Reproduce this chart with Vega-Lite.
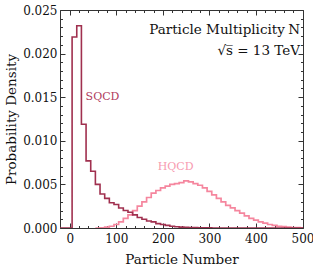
{
  "$schema": "https://vega.github.io/schema/vega-lite/v6.json",
  "width": 243,
  "height": 218,
  "autosize": "none",
  "padding": {"left": 60, "top": 10, "right": 10, "bottom": 45},
  "background": "white",
  "config": {
    "view": {"stroke": null},
    "font": "DejaVu Serif",
    "axis": {
      "labelFont": "DejaVu Serif",
      "titleFont": "DejaVu Serif",
      "labelColor": "#111",
      "titleColor": "#111",
      "titleFontWeight": "normal",
      "domainColor": "#333",
      "tickColor": "#333",
      "grid": false
    }
  },
  "datasets": {
    "hist": [
      {"series": "HQCD", "edge": 55, "density": 0},
      {"series": "HQCD", "edge": 65, "density": 0.00003},
      {"series": "HQCD", "edge": 75, "density": 0.0001},
      {"series": "HQCD", "edge": 85, "density": 0.0002},
      {"series": "HQCD", "edge": 95, "density": 0.0004},
      {"series": "HQCD", "edge": 105, "density": 0.0007},
      {"series": "HQCD", "edge": 115, "density": 0.0011},
      {"series": "HQCD", "edge": 125, "density": 0.0015},
      {"series": "HQCD", "edge": 135, "density": 0.002},
      {"series": "HQCD", "edge": 145, "density": 0.0025},
      {"series": "HQCD", "edge": 155, "density": 0.003},
      {"series": "HQCD", "edge": 165, "density": 0.0035},
      {"series": "HQCD", "edge": 175, "density": 0.004},
      {"series": "HQCD", "edge": 185, "density": 0.0043},
      {"series": "HQCD", "edge": 195, "density": 0.0046},
      {"series": "HQCD", "edge": 205, "density": 0.0048},
      {"series": "HQCD", "edge": 215, "density": 0.005},
      {"series": "HQCD", "edge": 225, "density": 0.0051},
      {"series": "HQCD", "edge": 235, "density": 0.0052},
      {"series": "HQCD", "edge": 245, "density": 0.0054},
      {"series": "HQCD", "edge": 255, "density": 0.0053},
      {"series": "HQCD", "edge": 265, "density": 0.0051},
      {"series": "HQCD", "edge": 275, "density": 0.0049},
      {"series": "HQCD", "edge": 285, "density": 0.0046},
      {"series": "HQCD", "edge": 295, "density": 0.0042},
      {"series": "HQCD", "edge": 305, "density": 0.0038},
      {"series": "HQCD", "edge": 315, "density": 0.0034},
      {"series": "HQCD", "edge": 325, "density": 0.003},
      {"series": "HQCD", "edge": 335, "density": 0.0026},
      {"series": "HQCD", "edge": 345, "density": 0.0023},
      {"series": "HQCD", "edge": 355, "density": 0.002},
      {"series": "HQCD", "edge": 365, "density": 0.0017},
      {"series": "HQCD", "edge": 375, "density": 0.0014},
      {"series": "HQCD", "edge": 385, "density": 0.0011},
      {"series": "HQCD", "edge": 395, "density": 0.0009},
      {"series": "HQCD", "edge": 405, "density": 0.0007},
      {"series": "HQCD", "edge": 415, "density": 0.00055},
      {"series": "HQCD", "edge": 425, "density": 0.0004},
      {"series": "HQCD", "edge": 435, "density": 0.0003},
      {"series": "HQCD", "edge": 445, "density": 0.0002},
      {"series": "HQCD", "edge": 455, "density": 0.00015},
      {"series": "HQCD", "edge": 465, "density": 0.0001},
      {"series": "HQCD", "edge": 475, "density": 0.00006},
      {"series": "HQCD", "edge": 485, "density": 0.00004},
      {"series": "HQCD", "edge": 495, "density": 0.00002},
      {"series": "HQCD", "edge": 505, "density": 0},
      {"series": "SQCD", "edge": -25, "density": 0},
      {"series": "SQCD", "edge": -15, "density": 0},
      {"series": "SQCD", "edge": -5, "density": 0},
      {"series": "SQCD", "edge": 5, "density": 0.0219},
      {"series": "SQCD", "edge": 15, "density": 0.0232},
      {"series": "SQCD", "edge": 25, "density": 0.0119},
      {"series": "SQCD", "edge": 35, "density": 0.0077},
      {"series": "SQCD", "edge": 45, "density": 0.0065},
      {"series": "SQCD", "edge": 55, "density": 0.005},
      {"series": "SQCD", "edge": 65, "density": 0.0039},
      {"series": "SQCD", "edge": 75, "density": 0.0034},
      {"series": "SQCD", "edge": 85, "density": 0.0029},
      {"series": "SQCD", "edge": 95, "density": 0.0027},
      {"series": "SQCD", "edge": 105, "density": 0.0023},
      {"series": "SQCD", "edge": 115, "density": 0.002},
      {"series": "SQCD", "edge": 125, "density": 0.0018},
      {"series": "SQCD", "edge": 135, "density": 0.0015},
      {"series": "SQCD", "edge": 145, "density": 0.0012},
      {"series": "SQCD", "edge": 155, "density": 0.001},
      {"series": "SQCD", "edge": 165, "density": 0.0008},
      {"series": "SQCD", "edge": 175, "density": 0.0007},
      {"series": "SQCD", "edge": 185, "density": 0.0005},
      {"series": "SQCD", "edge": 195, "density": 0.0004},
      {"series": "SQCD", "edge": 205, "density": 0.0003},
      {"series": "SQCD", "edge": 215, "density": 0.0002},
      {"series": "SQCD", "edge": 225, "density": 0.00015},
      {"series": "SQCD", "edge": 235, "density": 0.0001},
      {"series": "SQCD", "edge": 245, "density": 0.00008},
      {"series": "SQCD", "edge": 255, "density": 0.00005},
      {"series": "SQCD", "edge": 265, "density": 0.00004},
      {"series": "SQCD", "edge": 275, "density": 0.00003},
      {"series": "SQCD", "edge": 285, "density": 0.00002},
      {"series": "SQCD", "edge": 295, "density": 0.00001},
      {"series": "SQCD", "edge": 305, "density": 0},
      {"series": "SQCD", "edge": 505, "density": 0}
    ],
    "labels": [
      {"text": "SQCD", "series": "SQCD", "x": 34, "y": 0.015},
      {"text": "HQCD", "series": "HQCD", "x": 189, "y": 0.007}
    ],
    "notes": [
      {"text": "Particle Multiplicity", "x": 462, "y": 0.02265, "style": "normal"},
      {"text": "N", "x": 494.5, "y": 0.02265, "style": "italic"},
      {"text": "√s̅ = 13 TeV", "x": 494.5, "y": 0.0203, "style": "normal"}
    ]
  },
  "layer": [
    {
      "data": {"name": "hist"},
      "transform": [{"filter": "datum.series === 'HQCD'"}],
      "mark": {"type": "line", "interpolate": "step-after", "strokeWidth": 1.7, "clip": true, "color": "#f5869e"},
      "encoding": {
        "x": {
          "field": "edge", "type": "quantitative",
          "scale": {"domain": [-21, 501], "nice": false, "zero": false},
          "axis": {
            "orient": "bottom",
            "title": "Particle Number",
            "titleFontSize": 13.5,
            "titlePadding": 6,
            "labelFontSize": 12,
            "values": [-20, 0, 20, 40, 60, 80, 100, 120, 140, 160, 180, 200, 220, 240, 260, 280, 300, 320, 340, 360, 380, 400, 420, 440, 460, 480, 500],
            "labelExpr": "datum.value % 100 === 0 ? datum.label : ''",
            "tickSize": {"expr": "datum.value % 100 === 0 ? -5 : -2.5"},
            "labelPadding": 10,
            "labelFlush": false,
            "labelOverlap": false
          }
        },
        "y": {
          "field": "density", "type": "quantitative",
          "scale": {"domain": [0, 0.025], "nice": false},
          "axis": {
            "orient": "left",
            "title": "Probability Density",
            "titleFontSize": 13.5,
            "titlePadding": 4,
            "labelFontSize": 12,
            "format": ".3f",
            "values": [0, 0.001, 0.002, 0.003, 0.004, 0.005, 0.006, 0.007, 0.008, 0.009, 0.01, 0.011, 0.012, 0.013, 0.014, 0.015, 0.016, 0.017, 0.018, 0.019, 0.02, 0.021, 0.022, 0.023, 0.024, 0.025],
            "labelExpr": "round(datum.value * 1000) % 5 === 0 ? datum.label : ''",
            "tickSize": {"expr": "round(datum.value * 1000) % 5 === 0 ? -5 : -2.5"},
            "labelPadding": 8,
            "labelFlush": false,
            "labelOverlap": false
          }
        }
      }
    },
    {
      "data": {"name": "hist"},
      "transform": [{"filter": "datum.series === 'SQCD'"}],
      "mark": {"type": "line", "interpolate": "step-after", "strokeWidth": 1.6, "clip": true, "color": "#a0304f"},
      "encoding": {
        "x": {
          "field": "edge", "type": "quantitative",
          "axis": {
            "orient": "top",
            "title": null,
            "labels": false,
            "values": [-20, 0, 20, 40, 60, 80, 100, 120, 140, 160, 180, 200, 220, 240, 260, 280, 300, 320, 340, 360, 380, 400, 420, 440, 460, 480, 500],
            "tickSize": {"expr": "datum.value % 100 === 0 ? -5 : -2.5"}
          }
        },
        "y": {
          "field": "density", "type": "quantitative",
          "axis": {
            "orient": "right",
            "title": null,
            "labels": false,
            "values": [0, 0.001, 0.002, 0.003, 0.004, 0.005, 0.006, 0.007, 0.008, 0.009, 0.01, 0.011, 0.012, 0.013, 0.014, 0.015, 0.016, 0.017, 0.018, 0.019, 0.02, 0.021, 0.022, 0.023, 0.024, 0.025],
            "tickSize": {"expr": "round(datum.value * 1000) % 5 === 0 ? -5 : -2.5"}
          }
        }
      }
    },
    {
      "data": {"name": "labels"},
      "mark": {"type": "text", "align": "left", "baseline": "middle", "fontSize": 11, "font": "DejaVu Serif"},
      "encoding": {
        "x": {"field": "x", "type": "quantitative", "axis": null},
        "y": {"field": "y", "type": "quantitative", "axis": null},
        "text": {"field": "text"},
        "color": {"field": "series", "type": "nominal", "scale": {"domain": ["SQCD", "HQCD"], "range": ["#b03a5c", "#f79ab0"]}, "legend": null}
      }
    },
    {
      "data": {"name": "notes"},
      "mark": {"type": "text", "align": "right", "baseline": "middle", "fontSize": 13.5, "font": "DejaVu Serif", "color": "#111"},
      "encoding": {
        "x": {"field": "x", "type": "quantitative", "axis": null},
        "y": {"field": "y", "type": "quantitative", "axis": null},
        "text": {"field": "text"},
        "fontStyle": {"field": "style", "type": "nominal", "scale": null}
      }
    }
  ],
  "resolve": {"axis": {"x": "independent", "y": "independent"}}
}
